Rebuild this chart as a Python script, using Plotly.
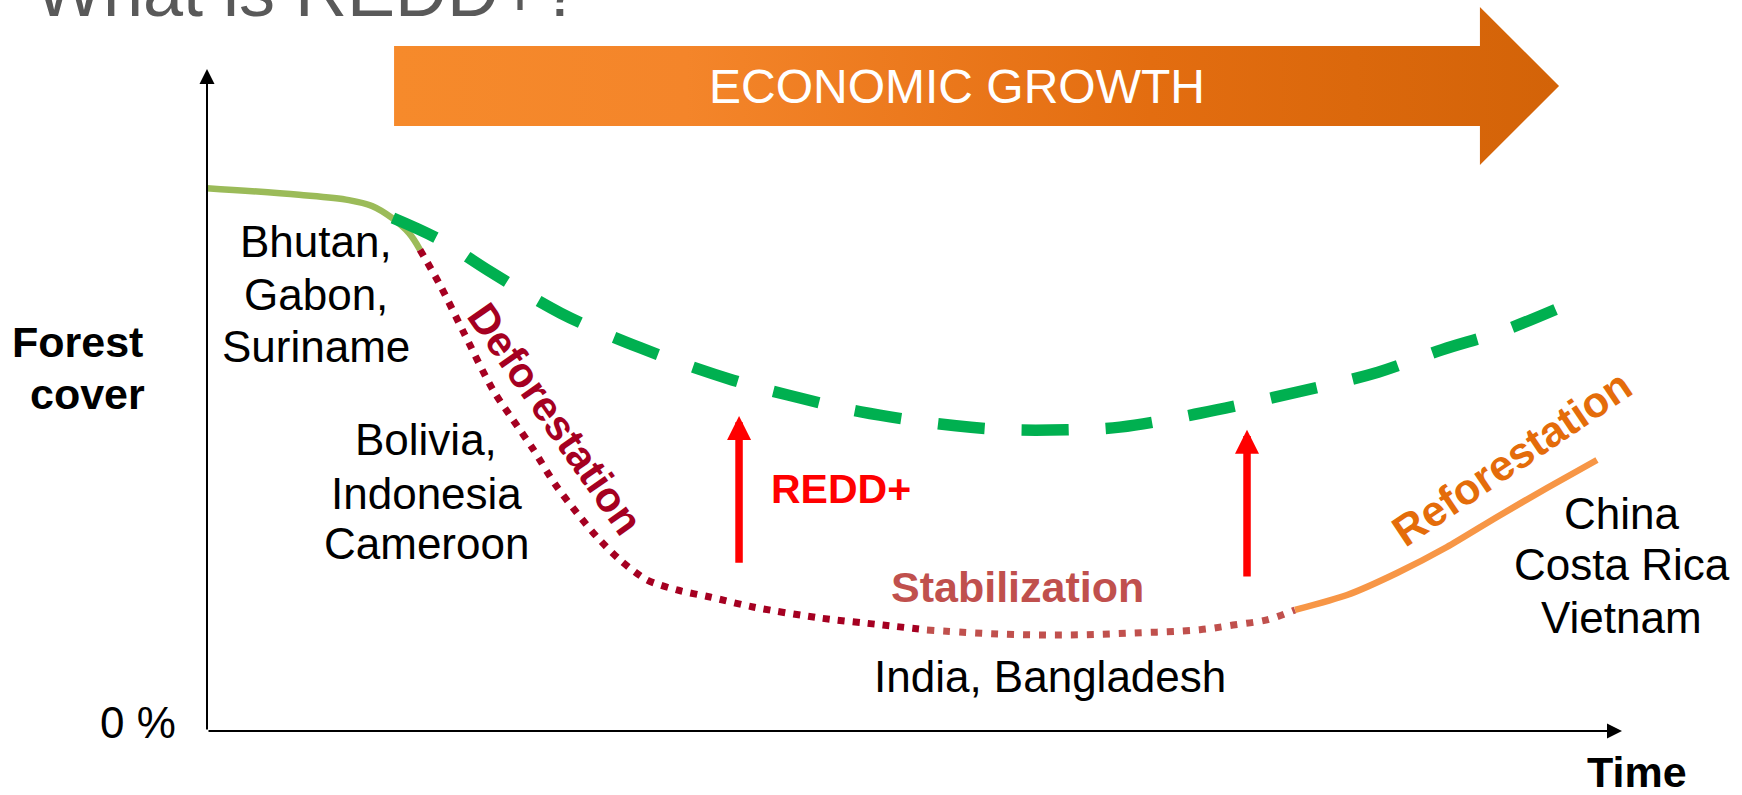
import plotly.graph_objects as go

# ---- conceptual data: time (0-100) vs forest cover (0-100 %) ----
intact_t = [0, 6.50, 10.03, 11.66, 13.07, 14.28, 15.05]
intact_c = [82.0, 81.0, 80.2, 79.3, 77.5, 75.2, 72.7]

defor_t = [15.05, 16.47, 18.16, 20.21, 21.63, 23.04, 24.59, 26.15, 27.56, 29.19,
           31.10, 33.22, 35.55, 38.59, 43.32, 47.77, 50.88]
defor_c = [72.7, 67.37, 60.12, 51.51, 46.98, 42.6, 37.3, 32.93, 29.31, 25.83,
           22.81, 21.30, 20.24, 18.73, 17.07, 16.01, 15.26]

stab_t = [50.88, 56.04, 60.78, 65.44, 70.18, 72.51, 74.91, 76.89]
stab_c = [15.26, 14.65, 14.5, 14.8, 15.3, 16.0, 16.8, 18.28]

refor_t = [76.89, 80.57, 84.10, 87.63, 91.17, 94.70, 98.23]
refor_c = [18.28, 20.54, 23.87, 27.79, 32.33, 36.71, 40.94]

redd_t = [13.14, 16.47, 19.93, 25.02, 30.60, 37.17, 41.91, 46.22, 52.93, 56.75,
          60.78, 64.52, 70.18, 77.03, 82.76, 87.28, 91.38, 95.55]
redd_c = [77.5, 74.2, 69.5, 63.1, 57.9, 53.0, 50.3, 48.2, 46.1, 45.5,
          45.5, 45.9, 48.0, 51.2, 54.2, 57.6, 60.3, 63.9]

# REDD+ uplift arrows
uplift_t = [37.6, 73.5]
uplift_from = [25.2, 23.1]
uplift_to = [47.6, 45.5]

# economic growth banner arrow outline
growth_t = [13.22, 89.96, 89.96, 95.55, 89.96, 89.96, 13.22, 13.22]
growth_c = [103.47, 103.47, 109.37, 97.43, 85.50, 91.39, 91.39, 103.47]

x_range = [-14.629, 108.481]
y_range = [-9.668, 110.423]

FONT = "Liberation Sans, Arial, sans-serif"

fig = go.Figure()

fig.add_trace(go.Scatter(
    x=growth_t, y=growth_c, mode="lines", fill="toself",
    line=dict(width=0, color="rgba(0,0,0,0)"),
    fillgradient=dict(type="horizontal",
                      colorscale=[[0, "#F68A2B"], [0.25, "#F4852A"], [0.65, "#E36D10"], [1, "#D36308"]]),
    hoverinfo="skip"))

fig.add_trace(go.Scatter(x=intact_t, y=intact_c, mode="lines",
                         line=dict(color="#9BBB59", width=6.5, shape="spline"), hoverinfo="skip"))
fig.add_trace(go.Scatter(x=defor_t, y=defor_c, mode="lines",
                         line=dict(color="#A50021", width=7, shape="spline", smoothing=0.8, dash="7px,8px"),
                         hoverinfo="skip"))
fig.add_trace(go.Scatter(x=stab_t, y=stab_c, mode="lines",
                         line=dict(color="#C0504D", width=7, shape="spline", dash="7px,9px"), hoverinfo="skip"))
fig.add_trace(go.Scatter(x=refor_t, y=refor_c, mode="lines",
                         line=dict(color="#F79646", width=6.5, shape="spline", smoothing=0.6), hoverinfo="skip"))
fig.add_trace(go.Scatter(x=redd_t, y=redd_c, mode="lines",
                         line=dict(color="#00B050", width=11.5, shape="spline", dash="47px,37px"), hoverinfo="skip"))

ann = []

def txt(t, x, y, size, color="black", bold=False, angle=0):
    ann.append(dict(text=f"<b>{t}</b>" if bold else t, x=x, y=y, showarrow=False,
                    font=dict(family=FONT, size=size, color=color), textangle=angle,
                    xanchor="center", yanchor="middle"))

# axes arrows
ann.append(dict(x=0, y=100, ax=0, ay=0, axref="x", ayref="y", text="", showarrow=True,
                arrowhead=2, arrowsize=1.5, arrowwidth=2, arrowcolor="black"))
ann.append(dict(x=100, y=0, ax=0, ay=0, axref="x", ayref="y", text="", showarrow=True,
                arrowhead=2, arrowsize=1.5, arrowwidth=2, arrowcolor="black"))

# REDD+ arrows
for t, c0, c1 in zip(uplift_t, uplift_from, uplift_to):
    ann.append(dict(x=t, y=c1, ax=t, ay=c0, axref="x", ayref="y", text="", showarrow=True,
                    arrowhead=2, arrowsize=0.64, arrowwidth=7.5, arrowcolor="#FF0000"))

# texts
ann.append(dict(text="What is REDD+?", x=33 / 1742, y=1 + 9 / 795, xref="paper", yref="paper",
                xanchor="left", yanchor="middle", showarrow=False,
                font=dict(family=FONT, size=72, color="#595959")))
txt("ECONOMIC GROWTH", 53.0, 97.43, 48, "white")
txt("Forest", -9.12, 58.76, 43, bold=True)
txt("cover", -8.48, 50.91, 43, bold=True)
txt("0 %", -4.88, 1.21, 44)
txt("Time", 101.06, -6.19, 43, bold=True)
txt("Bhutan,", 7.70, 73.87, 44)
txt("Gabon,", 7.70, 66.01, 44)
txt("Suriname", 7.70, 58.01, 44)
txt("Bolivia,", 15.48, 43.96, 44)
txt("Indonesia", 15.48, 35.95, 44)
txt("Cameroon", 15.48, 28.25, 44)
txt("India, Bangladesh", 59.58, 8.16, 44)
txt("China", 100.0, 32.93, 44)
txt("Costa Rica", 100.0, 25.08, 44)
txt("Vietnam", 100.0, 17.22, 44)
txt("Stabilization", 57.31, 21.75, 43, "#C0504D", bold=True)
txt("REDD+", 44.81, 36.56, 41, "#FF0000", bold=True)
txt("Deforestation", 24.6, 47.2, 42, "#A50021", bold=True, angle=55)
txt("Reforestation", 92.2, 41.3, 43, "#E46C0A", bold=True, angle=-34)

fig.update_layout(
    width=1742, height=795, margin=dict(l=0, r=0, t=0, b=0),
    paper_bgcolor="white", plot_bgcolor="white", showlegend=False,
    xaxis=dict(range=x_range, visible=False, fixedrange=True),
    yaxis=dict(range=y_range, visible=False, fixedrange=True),
    annotations=ann,
)

fig.write_html("out.html", config={"displayModeBar": False},
               post_script="document.body.style.margin='0px';")
